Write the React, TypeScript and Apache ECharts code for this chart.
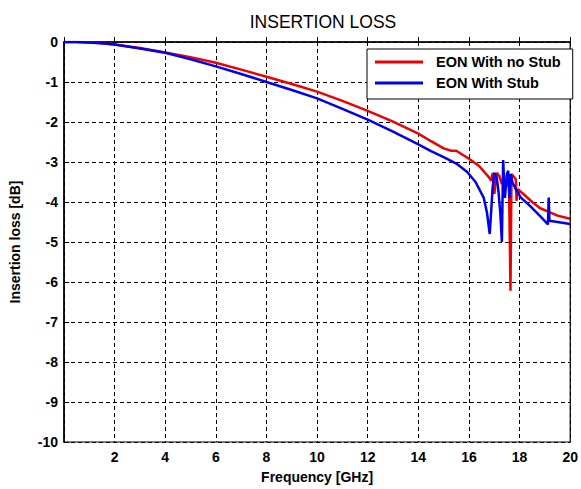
import React, { useEffect, useRef } from "react";
import * as echarts from "echarts";

// Insertion loss of the EON line, without and with the stub
const freqNoStub = [
  0, 0.5, 1, 1.5, 2, 3, 4, 5, 6, 7, 8, 9, 10, 11, 12, 13, 14, 14.5, 15, 15.3, 15.5, 15.7, 16, 16.4,
  16.8, 16.88, 16.94, 17.0, 17.1, 17.2, 17.3, 17.4, 17.5, 17.58, 17.64, 17.68, 17.75, 17.85, 17.88,
  17.93, 18.15, 18.5, 18.8, 19.2, 19.5, 20,
];
const lossNoStub = [
  0, 0, -0.01, -0.03, -0.06, -0.15, -0.26, -0.38, -0.52, -0.69, -0.87, -1.05, -1.24, -1.47, -1.72,
  -1.99, -2.29, -2.48, -2.66, -2.72, -2.72, -2.8, -2.92, -3.1, -3.39, -3.47, -3.27, -3.8, -3.27,
  -3.35, -3.55, -3.45, -3.6, -3.45, -6.22, -3.3, -3.35, -3.43, -3.97, -3.68, -3.8, -4.0, -4.15,
  -4.26, -4.34, -4.42,
];

const freqStub = [
  0, 0.5, 1, 1.5, 2, 3, 4, 5, 6, 7, 8, 9, 10, 11, 12, 13, 14, 14.5, 15, 15.5, 15.93, 16.26, 16.58,
  16.71, 16.82, 16.87, 16.93, 17.0, 17.1, 17.17, 17.24, 17.3, 17.35, 17.42, 17.5, 17.55, 17.6, 17.65,
  17.72, 17.85, 18.05, 18.45, 18.85, 19.12, 19.15, 19.18, 19.5, 20,
];
const lossStub = [
  0, 0, -0.01, -0.03, -0.06, -0.16, -0.27, -0.43, -0.61, -0.8, -1.0, -1.2, -1.41, -1.67, -1.94,
  -2.24, -2.56, -2.73, -2.88, -3.04, -3.25, -3.5, -3.89, -4.26, -4.8, -4.3, -3.68, -3.27, -3.4,
  -3.76, -4.3, -5.0, -2.95, -3.9, -3.3, -3.22, -3.9, -3.3, -3.52, -3.68, -3.89, -4.12, -4.38, -4.56,
  -3.89, -4.47, -4.5, -4.55,
];

const seriesNames = ["EON With no Stub", "EON With Stub"];
const seriesColors = ["#ee0000", "#0000ee"];

const FONT = "'Liberation Sans', Arial, sans-serif";
const LABEL_SIZE = 14;

export default function App() {
  const ref = useRef<HTMLDivElement>(null);

  useEffect(() => {
    document.body.style.margin = "0";
    if (!ref.current) return;
    const chart = echarts.init(ref.current, null, { renderer: "svg" });

    const pairs = (xs: number[], ys: number[]) => xs.map((x, i) => [x, ys[i]]);
    const gridLine = { show: true, lineStyle: { color: "#000", type: [4, 3] as any, width: 1 } };
    const labelText = { fontFamily: FONT, fontSize: LABEL_SIZE, fontWeight: "bold", color: "#000" };

    chart.setOption({
      animation: false,
      backgroundColor: "#fff",
      title: {
        text: "INSERTION LOSS",
        left: 318,
        top: 8,
        textAlign: "center",
        textStyle: { fontFamily: FONT, fontSize: 17.5, fontWeight: "normal", color: "#000" },
      },
      grid: {
        left: 63,
        top: 42,
        right: 5,
        bottom: 45,
        show: true,
        borderColor: "#000",
        borderWidth: 1.2,
        backgroundColor: "#fff",
      },
      legend: {
        orient: "vertical",
        left: 367,
        top: 49,
        padding: [5, 12, 8, 8],
        itemGap: 5,
        itemWidth: 48,
        itemHeight: 3,
        icon: "rect",
        borderColor: "#000",
        borderWidth: 1,
        backgroundColor: "#fff",
        data: seriesNames,
        textStyle: { ...labelText, fontSize: 14.5, lineHeight: 16, padding: [0, 0, 0, 8] },
      },
      xAxis: {
        type: "value",
        min: 0,
        max: 20,
        interval: 2,
        name: "Frequency [GHz]",
        nameLocation: "middle",
        nameGap: 28,
        nameTextStyle: labelText,
        axisLine: { show: true, lineStyle: { color: "#000", width: 1.5 } },
        axisTick: { show: true, inside: true, length: 5, lineStyle: { color: "#000" } },
        axisLabel: {
          ...labelText,
          margin: 8,
          formatter: (v: number) => (v === 0 ? "" : String(v)),
        },
        splitLine: gridLine,
      },
      yAxis: {
        type: "value",
        min: -10,
        max: 0,
        interval: 1,
        name: "Insertion loss [dB]",
        nameLocation: "middle",
        nameGap: 42,
        nameTextStyle: labelText,
        axisLine: { show: true, lineStyle: { color: "#000", width: 1.5 } },
        axisTick: { show: true, inside: true, length: 5, lineStyle: { color: "#000" } },
        axisLabel: { ...labelText, margin: 6 },
        splitLine: gridLine,
      },
      series: [
        {
          name: seriesNames[0],
          type: "line",
          data: pairs(freqNoStub, lossNoStub),
          symbol: "none",
          color: seriesColors[0],
          lineStyle: { width: 2.5, color: seriesColors[0] },
          z: 2,
        },
        {
          name: seriesNames[1],
          type: "line",
          data: pairs(freqStub, lossStub),
          symbol: "none",
          color: seriesColors[1],
          lineStyle: { width: 2.5, color: seriesColors[1] },
          z: 3,
        },
      ],
    });

    return () => chart.dispose();
  }, []);

  return <div ref={ref} style={{ width: 581, height: 489 }} />;
}
